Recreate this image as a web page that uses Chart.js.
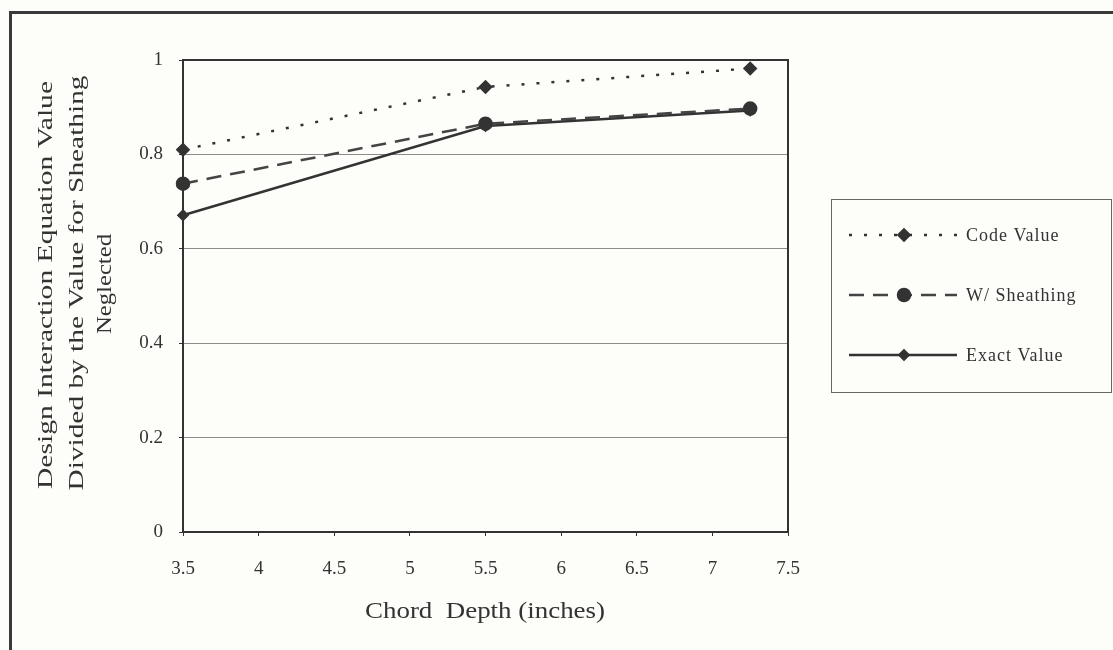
<!DOCTYPE html>
<html>
<head>
<meta charset="utf-8">
<script src="https://cdn.jsdelivr.net/npm/chart.js@4.4.1/dist/chart.umd.min.js"></script>
<style>
  html, body { margin: 0; padding: 0; background: #fdfdfa; }
  #wrap { width: 1113px; height: 650px; position: relative; }
</style>
</head>
<body>
<div id="wrap"><canvas id="chart" width="1113" height="650"></canvas></div>
<script>
// chord depth of the member (inches)
const depths = [3.5, 5.5, 7.25];
// interaction value / value with sheathing neglected
const codeValue = [0.81, 0.943, 0.982];
const withSheathing = [0.738, 0.865, 0.897];
const exactValue = [0.671, 0.86, 0.893];

const seriesNames = ['Code Value', 'W/ Sheathing', 'Exact Value'];
const xTickValues = [3.5, 4, 4.5, 5, 5.5, 6, 6.5, 7, 7.5];
const yTickValues = [0, 0.2, 0.4, 0.6, 0.8, 1];

const INK = '#333';
const SERIF = "'Liberation Serif', 'DejaVu Serif', serif";

const toPoints = (ys) => depths.map((x, i) => ({ x: x, y: ys[i] }));
const plainNum = (v) => String(+Number(v).toFixed(2));

// draws text stretched along its direction so it fills a given length
function stretchedText(ctx, text, x, y, length, rotate) {
  ctx.save();
  ctx.translate(x, y);
  if (rotate) ctx.rotate(-Math.PI / 2);
  const w = ctx.measureText(text).width;
  ctx.scale(length / w, 1);
  ctx.textAlign = 'center';
  ctx.textBaseline = 'middle';
  ctx.fillText(text, 0, 0);
  ctx.restore();
}

const decorPlugin = {
  id: 'decor',
  beforeDraw(chart) {
    const ctx = chart.ctx;
    ctx.save();
    ctx.fillStyle = '#fdfdfa';
    ctx.fillRect(0, 0, chart.width, chart.height);
    // outer frame, top and left only
    ctx.strokeStyle = '#3a3a3a';
    ctx.lineWidth = 3;
    ctx.beginPath();
    ctx.moveTo(10.5, chart.height);
    ctx.lineTo(10.5, 12.5);
    ctx.lineTo(chart.width, 12.5);
    ctx.stroke();
    ctx.restore();
  },
  beforeDatasetsDraw(chart) {
    const a = chart.chartArea;
    const ctx = chart.ctx;
    ctx.save();
    ctx.strokeStyle = INK;
    ctx.lineWidth = 2;
    ctx.strokeRect(a.left, a.top, a.right - a.left, a.bottom - a.top);
    ctx.restore();
  },
  afterDraw(chart) {
    const ctx = chart.ctx;
    ctx.save();
    ctx.fillStyle = INK;

    // y axis title, three lines, same letter size
    ctx.font = '21px ' + SERIF;
    stretchedText(ctx, 'Design Interaction Equation Value', 46, 285, 408, true);
    stretchedText(ctx, 'Divided by the Value for Sheathing', 77, 283, 415, true);
    stretchedText(ctx, 'Neglected', 105, 284, 100, true);

    // x axis title
    ctx.font = '23px ' + SERIF;
    stretchedText(ctx, 'Chord  Depth (inches)', 485, 612, 240, false);

    // legend
    const box = { left: 831, top: 199, right: 1111, bottom: 392 };
    ctx.strokeStyle = '#666';
    ctx.lineWidth = 1;
    ctx.strokeRect(box.left + 0.5, box.top + 0.5, box.right - box.left, box.bottom - box.top);

    const rows = [235, 295, 355];
    chart.data.datasets.forEach((ds, i) => {
      const y = rows[i];
      ctx.save();
      ctx.strokeStyle = ds.borderColor;
      ctx.lineWidth = ds.borderWidth;
      ctx.setLineDash(ds.borderDash || []);
      ctx.beginPath();
      ctx.moveTo(849, y);
      ctx.lineTo(957, y);
      ctx.stroke();
      ctx.setLineDash([]);
      ctx.fillStyle = ds.pointBackgroundColor;
      ctx.strokeStyle = ds.pointBorderColor;
      Chart.helpers.drawPoint(ctx, {
        pointStyle: ds.pointStyle, radius: ds.pointRadius, rotation: 0, borderWidth: 1
      }, 904, y);
      ctx.restore();

      ctx.fillStyle = INK;
      ctx.font = '18px ' + SERIF;
      ctx.textAlign = 'left';
      ctx.textBaseline = 'middle';
      ctx.letterSpacing = '1px';
      ctx.fillText(ds.label, 966, y + 1);
      ctx.letterSpacing = '0px';
    });
    ctx.restore();
  }
};

new Chart(document.getElementById('chart'), {
  type: 'scatter',
  data: {
    datasets: [
      {
        label: seriesNames[0],
        data: toPoints(codeValue),
        showLine: true,
        borderColor: '#333',
        borderWidth: 2.5,
        borderDash: [3, 12],
        pointStyle: 'rectRot',
        pointRadius: 5.5,
        pointBackgroundColor: '#333',
        pointBorderColor: '#333',
        clip: false
      },
      {
        label: seriesNames[1],
        data: toPoints(withSheathing),
        showLine: true,
        borderColor: '#444',
        borderWidth: 2.5,
        borderDash: [15, 9],
        pointStyle: 'circle',
        pointRadius: 6,
        pointBackgroundColor: '#333',
        pointBorderColor: '#333',
        clip: false
      },
      {
        label: seriesNames[2],
        data: toPoints(exactValue),
        showLine: true,
        borderColor: '#333',
        borderWidth: 2.5,
        pointStyle: 'rectRot',
        pointRadius: 4.5,
        pointBackgroundColor: '#333',
        pointBorderColor: '#333',
        clip: false
      }
    ]
  },
  options: {
    responsive: false,
    animation: false,
    events: [],
    layout: { padding: { left: 0, top: 60, right: 325, bottom: 0 } },
    plugins: {
      legend: { display: false },
      tooltip: { enabled: false }
    },
    scales: {
      x: {
        type: 'linear',
        min: 3.5,
        max: 7.5,
        afterBuildTicks: (scale) => { scale.ticks = xTickValues.map(v => ({ value: v })); },
        afterFit: (scale) => { scale.height = 118; },
        ticks: {
          color: INK,
          font: { family: SERIF, size: 19 },
          padding: 22,
          maxRotation: 0,
          autoSkip: false,
          callback: plainNum
        },
        grid: { drawOnChartArea: false, drawTicks: true, tickLength: 4, color: INK, tickColor: INK },
        border: { display: true, color: INK, width: 2 }
      },
      y: {
        type: 'linear',
        min: 0,
        max: 1,
        afterBuildTicks: (scale) => { scale.ticks = yTickValues.map(v => ({ value: v })); },
        afterFit: (scale) => { scale.width = 183; },
        ticks: {
          color: INK,
          font: { family: SERIF, size: 19 },
          padding: 16,
          callback: plainNum
        },
        grid: { color: '#8c8c8c', lineWidth: 1, drawTicks: true, tickLength: 4, tickColor: INK },
        border: { display: true, color: INK, width: 2 }
      }
    }
  },
  plugins: [decorPlugin]
});
</script>
</body>
</html>
